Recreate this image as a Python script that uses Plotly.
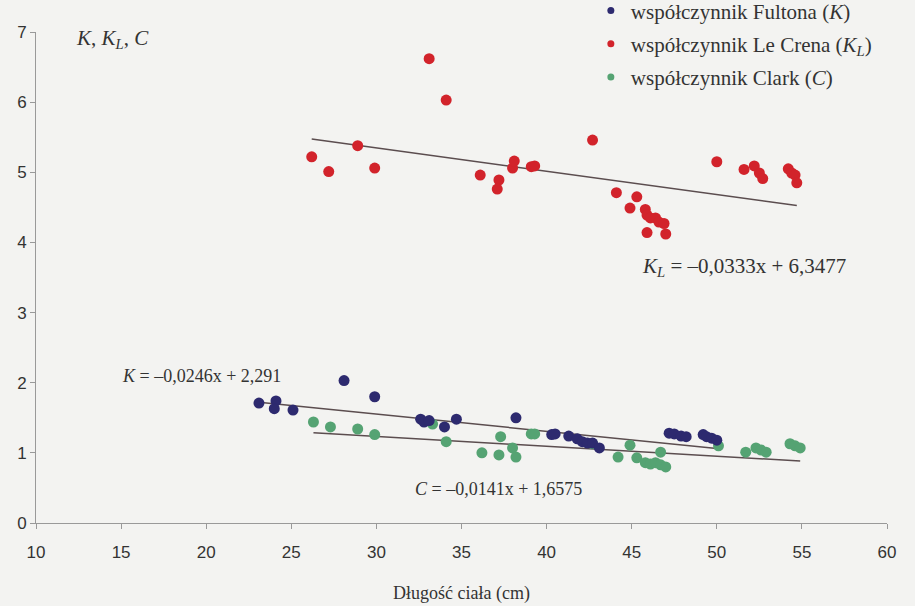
import plotly.graph_objects as go

# Fulton (K)
k_x = [23.1, 24.1, 24.0, 25.1, 28.1, 29.9, 32.6, 32.8, 33.1, 34.0, 34.7, 38.2, 40.3, 40.5,
       41.3, 41.8, 42.1, 42.4, 42.7, 43.1, 47.2, 47.5, 47.9, 48.2, 49.2, 49.4, 49.7, 50.0]
k_y = [1.71, 1.74, 1.63, 1.61, 2.03, 1.80, 1.48, 1.44, 1.46, 1.37, 1.48, 1.50, 1.26, 1.27,
       1.24, 1.20, 1.16, 1.14, 1.14, 1.07, 1.28, 1.27, 1.24, 1.23, 1.26, 1.23, 1.21, 1.18]

# Le Cren (KL)
kl_x = [26.2, 27.2, 28.9, 29.9, 33.1, 34.1, 36.1, 37.2, 37.1, 38.0, 38.1, 39.1, 39.3, 42.7,
        44.1, 45.3, 44.9, 45.8, 45.9, 46.1, 46.4, 46.6, 46.9, 45.9, 47.0, 50.0, 51.6, 52.2,
        52.5, 52.7, 54.2, 54.4, 54.6, 54.7]
kl_y = [5.22, 5.01, 5.38, 5.06, 6.62, 6.03, 4.96, 4.89, 4.76, 5.06, 5.16, 5.08, 5.09, 5.46,
        4.71, 4.65, 4.49, 4.47, 4.39, 4.35, 4.35, 4.29, 4.27, 4.14, 4.12, 5.15, 5.04, 5.09,
        4.99, 4.91, 5.05, 4.99, 4.96, 4.85]

# Clark (C)
c_x = [26.3, 27.3, 28.9, 29.9, 33.3, 34.1, 36.2, 37.2, 37.3, 38.0, 38.2, 39.1, 39.3, 42.7,
       44.2, 44.9, 45.3, 45.8, 46.1, 46.4, 46.7, 47.0, 46.7, 50.1, 51.7, 52.3, 52.6, 52.9,
       54.3, 54.6, 54.9]
c_y = [1.44, 1.37, 1.34, 1.26, 1.41, 1.16, 1.00, 0.97, 1.23, 1.07, 0.94, 1.27, 1.27, 1.13,
       0.94, 1.11, 0.93, 0.86, 0.84, 0.86, 0.83, 0.80, 1.01, 1.10, 1.01, 1.07, 1.04, 1.01,
       1.13, 1.10, 1.07]

# regression coefficients (slope, intercept)
k_fit = (-0.0246, 2.291)
kl_fit = (-0.0333, 6.3477)
c_fit = (-0.0141, 1.6575)

x_ticks = [10, 15, 20, 25, 30, 35, 40, 45, 50, 55, 60]
y_ticks = [0, 1, 2, 3, 4, 5, 6, 7]

BLUE = "#2d2a6f"
RED = "#d2232b"
GREEN = "#55a373"
LINE = "#5b4d4f"
SERIF = "Liberation Serif"
SANS = "Liberation Sans"

fig = go.Figure()


def trend(xs, fit):
    x0, x1 = min(xs), max(xs)
    return [x0, x1], [fit[0] * x0 + fit[1], fit[0] * x1 + fit[1]]


for xs, fit in [(kl_x, kl_fit), (k_x, k_fit), (c_x, c_fit)]:
    tx, ty = trend(xs, fit)
    fig.add_trace(go.Scatter(x=tx, y=ty, mode="lines", line=dict(color=LINE, width=1.5),
                             showlegend=False, hoverinfo="skip"))

for xs, ys, col in [(kl_x, kl_y, RED), (c_x, c_y, GREEN), (k_x, k_y, BLUE)]:
    fig.add_trace(go.Scatter(x=xs, y=ys, mode="markers", showlegend=False,
                             marker=dict(color=col, size=11, line=dict(width=0))))

legend_items = [
    ("współczynnik Fultona (<i>K</i>)", BLUE),
    ("współczynnik Le Crena (<i>K<sub>L</sub></i>)", RED),
    ("współczynnik Clark (<i>C</i>)", GREEN),
]
for i, (name, col) in enumerate(legend_items):
    fig.add_trace(go.Scatter(x=[None], y=[None], mode="markers", name=name,
                             legendgroup=f"g{i}",
                             marker=dict(color=col, size=7)))

annotations = [
    dict(x=0.045, y=0.985, xref="paper", yref="paper", xanchor="left", yanchor="middle",
         text="<i>K</i>, <i>K<sub>L</sub></i>, <i>C</i>", showarrow=False,
         font=dict(family=SERIF, size=21, color="#333")),
    dict(x=0.832, y=0.522, xref="paper", yref="paper", xanchor="center", yanchor="middle",
         text="<i>K<sub>L</sub></i> = –0,0333x + 6,3477", showarrow=False,
         font=dict(family=SERIF, size=21, color="#333")),
    dict(x=0.195, y=0.299, xref="paper", yref="paper", xanchor="center", yanchor="middle",
         text="<i>K</i> = –0,0246x + 2,291", showarrow=False,
         font=dict(family=SERIF, size=18, color="#333")),
    dict(x=0.543, y=0.07, xref="paper", yref="paper", xanchor="center", yanchor="middle",
         text="<i>C</i> = –0,0141x + 1,6575", showarrow=False,
         font=dict(family=SERIF, size=18, color="#333")),
]

fig.update_layout(
    width=915, height=606,
    margin=dict(l=36, r=28, t=32, b=83, autoexpand=False),
    paper_bgcolor="#f3f3f1", plot_bgcolor="#f3f3f1",
    showlegend=True,
    legend=dict(x=0.652, y=1.085, xanchor="left", yanchor="top", bgcolor="rgba(0,0,0,0)",
                font=dict(family=SERIF, size=21, color="#333"),
                tracegroupgap=3, traceorder="grouped", itemwidth=30),
    annotations=annotations,
    xaxis=dict(range=[10, 60], tickvals=x_ticks, showgrid=False, zeroline=False,
               showline=True, linecolor="#999", linewidth=1, ticks="outside",
               tickcolor="#999", ticklen=5, ticklabelstandoff=9,
               tickfont=dict(family=SANS, size=17, color="#333"),
               title=dict(text="Długość ciała (cm)", standoff=24,
                          font=dict(family=SERIF, size=18, color="#333"))),
    yaxis=dict(range=[0, 7], tickvals=y_ticks, showgrid=False, zeroline=False,
               showline=True, linecolor="#999", linewidth=1, ticks="outside",
               tickcolor="#999", ticklen=5,
               tickfont=dict(family=SANS, size=17, color="#333")),
)

fig.write_html("out.html")
